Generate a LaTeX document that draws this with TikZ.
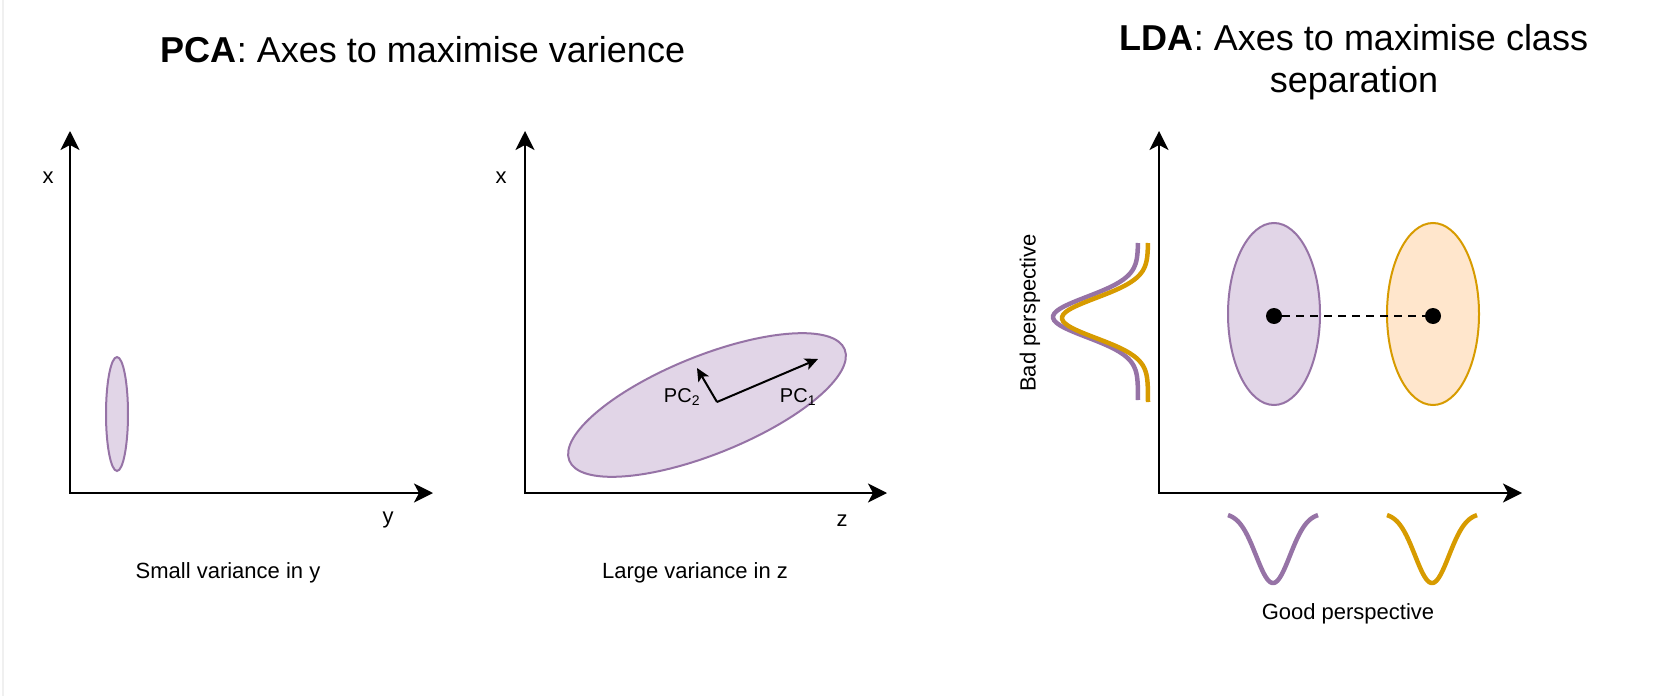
\documentclass[tikz,border=0pt]{standalone}
\usepackage{fontspec}
\setmainfont{Liberation Sans}
\usetikzlibrary{arrows.meta,shapes.geometric}
\definecolor{lilacline}{HTML}{9673A6}
\definecolor{lilacfill}{HTML}{E1D5E7}
\definecolor{amberline}{HTML}{D79B00}
\definecolor{amberfill}{HTML}{FFE6CC}

\begin{document}
\begin{tikzpicture}[x=1bp, y=-1bp,
        axes/.style={line width=2bp, {Stealth[length=19bp,width=19bp,inset=5bp]}-{Stealth[length=19bp,width=19bp,inset=5bp]}},
        pcarrow/.style={line width=2bp, -{Stealth[length=13bp,width=12bp,inset=3bp]}},
        blob/.style={ellipse, draw, line width=2bp, inner sep=0pt},
        lilac/.style={blob, draw=lilacline, fill=lilacfill},
        amber/.style={blob, draw=amberline, fill=amberfill},
        bell/.style={line width=4.5bp, smooth, samples=70},
        lbl/.style={font=\fontsize{22bp}{26bp}\selectfont},
        pclbl/.style={font=\fontsize{20bp}{24bp}\selectfont},
        ttl/.style={font=\fontsize{36bp}{42bp}\selectfont, align=center}]
    \useasboundingbox (0,0) rectangle (1672,696);
    \draw[black!6, line width=1.5bp] (3,0) -- (3,696);

    % titles
    \node[ttl] (pcatitle) at (423,50) {\textbf{PCA}: Axes to maximise varience};
    \node[ttl] (ldatitle) at (1354,62) {\textbf{LDA}: Axes to maximise class\\separation};

    % left plot: small variance
    \coordinate (top1) at (70,131);
    \coordinate (end1) at (433,493);
    \draw[axes] (top1) |- (end1);
    \node[lbl] (xlbl1) at (48,178) {x};
    \node[lbl] (ylbl1) at (388,520) {y};
    \node[lilac, minimum width=22bp, minimum height=114bp] (thin) at (117,414) {};
    \node[lbl] (smallcap) at (228,573) {Small variance in y};

    % middle plot: large variance
    \coordinate (top2) at (525,131);
    \coordinate (end2) at (887,493);
    \draw[axes] (top2) |- (end2);
    \node[lbl] (xlbl2) at (501,178) {x};
    \node[lbl] (zlbl2) at (842,521) {z};
    \node[lilac, minimum width=297bp, minimum height=98bp, rotate=22] (wide) at (707,405) {};
    \coordinate (pc0) at (717,402);
    \coordinate (pc1tip) at (818,359);
    \coordinate (pc2tip) at (697,368);
    \draw[pcarrow] (pc0) -- (pc1tip);
    \draw[pcarrow] (pc0) -- (pc2tip);
    \node[pclbl] (pc1) at (798,397) {PC\textsubscript{1}};
    \node[pclbl] (pc2) at (682,397) {PC\textsubscript{2}};
    \node[lbl] (largecap) at (695,573) {Large variance in z};

    % right plot: LDA
    \coordinate (top3) at (1159,131);
    \coordinate (end3) at (1522,493);
    \draw[axes] (top3) |- (end3);
    \node[lilac, minimum width=92bp, minimum height=182bp] (clsa) at (1274,314) {};
    \node[amber, minimum width=92bp, minimum height=182bp] (clsb) at (1433,314) {};
    \node[circle, fill=black, minimum size=16bp, inner sep=0pt] (mua) at (1274,316) {};
    \node[circle, fill=black, minimum size=16bp, inner sep=0pt] (mub) at (1433,316) {};
    \draw[line width=2bp, dash pattern=on 8bp off 6bp] (mua) -- (mub);

    % projections
    \draw[bell, lilacline, variable=\t, domain=-74:83] plot ({1138-85*exp(-(\t/20)*(\t/20)/2)}, {317+\t});
    \draw[bell, amberline, variable=\t, domain=-75:84] plot ({1148-86*exp(-(\t/20)*(\t/20)/2)}, {318+\t});
    \node[lbl, rotate=90] (badcap) at (1030,313) {Bad perspective};
    \draw[bell, lilacline, variable=\t, domain=-45:45] plot ({1273+\t}, {513+70*exp(-(\t/17)*(\t/17)/2)});
    \draw[bell, amberline, variable=\t, domain=-45:45] plot ({1432+\t}, {513+70*exp(-(\t/17)*(\t/17)/2)});
    \node[lbl] (goodcap) at (1348,614) {Good perspective};
\end{tikzpicture}
\end{document}
